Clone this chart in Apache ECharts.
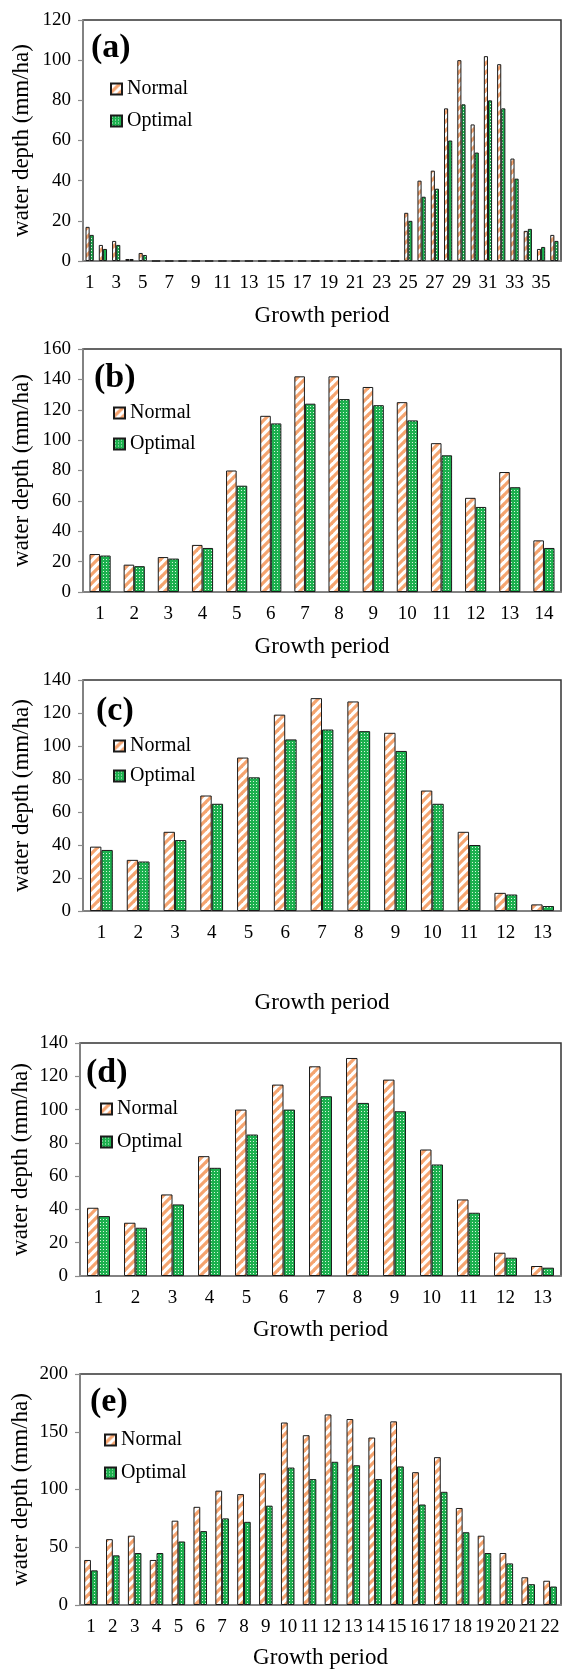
<!DOCTYPE html>
<html>
<head>
<meta charset="utf-8">
<script src="https://cdn.jsdelivr.net/npm/echarts@6/dist/echarts.min.js"></script>
<style>
html,body{margin:0;padding:0;background:#fff;}
#chart{width:563px;height:1670px;}
</style>
</head>
<body>
<div id="chart"></div>
<script>
// ---------- data ----------
const catsA = ['1','2','3','4','5','6','7','8','9','10','11','12','13','14','15','16','17','18','19','20','21','22','23','24','25','26','27','28','29','30','31','32','33','34','35','36'];
const normalA = [17,8,10,1,4,0,0,0,0,0,0,0,0,0,0,0,0,0,0,0,0,0,0,0,24,40,45,76,100,68,102,98,51,15,6,13];
const optimalA = [13,6,8,1,3,0,0,0,0,0,0,0,0,0,0,0,0,0,0,0,0,0,0,0,20,32,36,60,78,54,80,76,41,16,7,10];

const catsB = ['1','2','3','4','5','6','7','8','9','10','11','12','13','14'];
const normalB = [25,18,23,31,80,116,142,142,135,125,98,62,79,34];
const optimalB = [24,17,22,29,70,111,124,127,123,113,90,56,69,29];

const catsC = ['1','2','3','4','5','6','7','8','9','10','11','12','13'];
const normalC = [39,31,48,70,93,119,129,127,108,73,48,11,4];
const optimalC = [37,30,43,65,81,104,110,109,97,65,40,10,3];

const catsD = ['1','2','3','4','5','6','7','8','9','10','11','12','13'];
const normalD = [41,32,49,72,100,115,126,131,118,76,46,14,6];
const optimalD = [36,29,43,65,85,100,108,104,99,67,38,11,5];

const catsE = ['1','2','3','4','5','6','7','8','9','10','11','12','13','14','15','16','17','18','19','20','21','22'];
const normalE = [39,57,60,39,73,85,99,96,114,158,147,165,161,145,159,115,128,84,60,45,24,21];
const optimalE = [30,43,45,45,55,64,75,72,86,119,109,124,121,109,120,87,98,63,45,36,18,16];

const panelLabels = ['(a)','(b)','(c)','(d)','(e)'];
const seriesNames = ['Normal','Optimal'];
const xName = 'Growth period';
const yName = 'water depth (mm/ha)';

// ---------- patterns ----------
function stripePattern(){
  const c = document.createElement('canvas');
  c.width = 9; c.height = 9;
  const g = c.getContext('2d');
  g.fillStyle = '#ffffff'; g.fillRect(0,0,9,9);
  g.strokeStyle = '#f5a46f'; g.lineWidth = 3.2;
  for (const o of [-9,0,9]) {
    g.beginPath(); g.moveTo(o-1, 10); g.lineTo(o+10, -1); g.stroke();
  }
  return c;
}
function dotPattern(){
  const c = document.createElement('canvas');
  c.width = 3; c.height = 3;
  const g = c.getContext('2d');
  g.fillStyle = '#1cb04e'; g.fillRect(0,0,3,3);
  g.fillStyle = '#d8f5e0'; g.fillRect(1,1,1,1);
  return c;
}
const normalFill = {image: stripePattern(), repeat: 'repeat'};
const optimalFill = {image: dotPattern(), repeat: 'repeat'};

const FONT = "'Liberation Serif','Times New Roman',serif";

const panels = [
  {cats: catsA, n: normalA, o: optimalA, left: 83, top: 20, height: 241, max: 120, interval: 20, labelInt: 1, xGap: 43, yGap: 50,
   legLeft: 110, legTop: 79, legGap: 12, tLeft: 91, tTop: 31},
  {cats: catsB, n: normalB, o: optimalB, left: 83, top: 349, height: 243, max: 160, interval: 20, labelInt: 0, xGap: 43, yGap: 50,
   legLeft: 113, legTop: 403, legGap: 11, tLeft: 94, tTop: 361},
  {cats: catsC, n: normalC, o: optimalC, left: 83, top: 680, height: 231, max: 140, interval: 20, labelInt: 0, xGap: 80, yGap: 50,
   legLeft: 113, legTop: 736, legGap: 10, tLeft: 96, tTop: 694},
  {cats: catsD, n: normalD, o: optimalD, left: 80, top: 1043, height: 233, max: 140, interval: 20, labelInt: 0, xGap: 42, yGap: 48,
   legLeft: 100, legTop: 1099, legGap: 13, tLeft: 86, tTop: 1056},
  {cats: catsE, n: normalE, o: optimalE, left: 80, top: 1374, height: 232, max: 200, interval: 50, labelInt: 0, xGap: 41, yGap: 48,
   legLeft: 104, legTop: 1430, legGap: 13, tLeft: 90, tTop: 1385}
];

const option = {
  backgroundColor: '#ffffff',
  animation: false,
  title: [], legend: [], grid: [], xAxis: [], yAxis: [], series: []
};

panels.forEach((p, i) => {
  option.grid.push({left: p.left, top: p.top, right: 2, height: p.height, show: true,
    borderColor: '#333333', borderWidth: 1.5, backgroundColor: 'transparent'});
  option.title.push({text: panelLabels[i], left: p.tLeft, top: p.tTop, padding: 0,
    textStyle: {fontFamily: FONT, fontSize: 34, fontWeight: 'bold', color: '#000', lineHeight: 34}});
  option.legend.push({orient: 'vertical', left: p.legLeft, top: p.legTop, padding: 0,
    itemWidth: 11, itemHeight: 11, itemGap: p.legGap, icon: 'rect', selectedMode: false,
    textStyle: {fontFamily: FONT, fontSize: 20, color: '#000'},
    data: seriesNames});
  option.xAxis.push({type: 'category', gridIndex: i, data: p.cats,
    name: xName, nameLocation: 'middle', nameGap: p.xGap, nameMoveOverlap: false,
    nameTextStyle: {fontFamily: FONT, fontSize: 23, color: '#000'},
    axisLine: {lineStyle: {color: '#8c8c8c', width: 1.5}},
    axisTick: {show: false},
    axisLabel: {interval: p.labelInt, margin: 13, fontFamily: FONT, fontSize: 19, color: '#000'}});
  option.yAxis.push({type: 'value', gridIndex: i, min: 0, max: p.max, interval: p.interval,
    name: yName, nameLocation: 'middle', nameGap: p.yGap, nameMoveOverlap: false,
    nameTextStyle: {fontFamily: FONT, fontSize: 23, color: '#000'},
    splitLine: {show: false},
    axisLine: {show: true, lineStyle: {color: '#8c8c8c', width: 1.5}},
    axisTick: {show: true, inside: false, length: 5, lineStyle: {color: '#8c8c8c', width: 1.2}},
    axisLabel: {margin: 12, fontFamily: FONT, fontSize: 19, color: '#000'}});
  option.series.push({type: 'bar', name: seriesNames[0], xAxisIndex: i, yAxisIndex: i, data: p.n,
    barGap: '0%', barCategoryGap: '38%',
    itemStyle: {color: normalFill, borderColor: '#1a1a1a', borderWidth: 1}});
  option.series.push({type: 'bar', name: seriesNames[1], xAxisIndex: i, yAxisIndex: i, data: p.o,
    barGap: '0%', barCategoryGap: '38%',
    itemStyle: {color: optimalFill, borderColor: '#1a1a1a', borderWidth: 1}});
});

const chart = echarts.init(document.getElementById('chart'), null, {renderer: 'canvas'});
chart.setOption(option);
</script>
</body>
</html>
